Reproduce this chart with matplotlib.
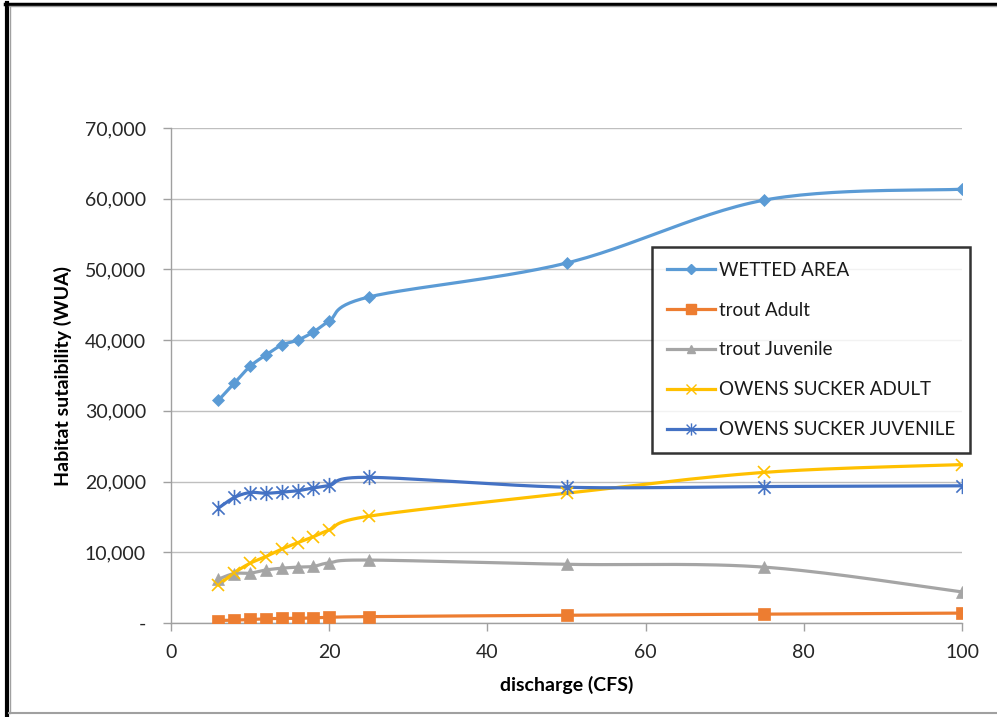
import numpy as np
import matplotlib

matplotlib.use("Agg")
import matplotlib.pyplot as plt
from matplotlib.lines import Line2D
from matplotlib.path import Path
from matplotlib.ticker import FuncFormatter

plt.rcParams["font.family"] = ["Lato", "DejaVu Sans"]

discharge = [6, 8, 10, 12, 14, 16, 18, 20, 25, 50, 75, 100]
wetted_area = [31500, 33900, 36300, 37900, 39300, 40000, 41150, 42700, 46100, 50900, 59800, 61350]
trout_adult = [350, 400, 500, 600, 650, 650, 750, 800, 900, 1100, 1250, 1400]
trout_juvenile = [6200, 7000, 7050, 7500, 7750, 7900, 8000, 8500, 8900, 8300, 7900, 4400]
owens_adult = [5350, 7100, 8450, 9400, 10450, 11350, 12200, 13150, 15100, 18350, 21300, 22400]
owens_juvenile = [16250, 17750, 18450, 18350, 18500, 18700, 19100, 19450, 20600, 19200, 19300, 19400]

series_names = ["WETTED AREA", "trout Adult", "trout Juvenile",
                "OWENS SUCKER ADULT", "OWENS SUCKER JUVENILE"]
colors = ["#5B9BD5", "#ED7D31", "#A5A5A5", "#FFC000", "#4472C4"]

# asterisk marker: vertical bar plus two diagonals
STAR = Path([(0, -1), (0, 1), (-0.8, -0.8), (0.8, 0.8), (-0.8, 0.8), (0.8, -0.8)],
            [Path.MOVETO, Path.LINETO, Path.MOVETO, Path.LINETO, Path.MOVETO, Path.LINETO])
markers = ["D", "s", "^", "x", STAR]
msizes = [6, 9, 8, 9, 11]


def smooth(x, y, n=30):
    """Bezier smoothing with Catmull-Rom control points."""
    p = np.column_stack([x, y]).astype(float)
    pts = [p[0]]
    t = np.linspace(0, 1, n)[1:, None]
    for i in range(len(p) - 1):
        p0 = p[i - 1] if i > 0 else p[i]
        p3 = p[i + 2] if i + 2 < len(p) else p[i + 1]
        b0, b3 = p[i], p[i + 1]
        b1 = b0 + (b3 - p0) / 6
        b2 = b3 - (p3 - b0) / 6
        seg = ((1 - t) ** 3) * b0 + 3 * ((1 - t) ** 2) * t * b1 + 3 * (1 - t) * t ** 2 * b2 + t ** 3 * b3
        pts.extend(seg)
    pts = np.array(pts)
    return pts[:, 0], pts[:, 1]


fig = plt.figure(figsize=(9.97, 7.17), dpi=100)
W, H = 997, 717
ax = fig.add_axes([171 / W, 1 - 623 / H, (962 - 171) / W, (623 - 128) / H])

all_series = [wetted_area, trout_adult, trout_juvenile, owens_adult, owens_juvenile]
handles = []
for name, vals, c, m, ms in zip(series_names, all_series, colors, markers, msizes):
    sx, sy = smooth(discharge, vals)
    ax.plot(sx, sy, color=c, lw=2.3, zorder=3, solid_capstyle="round")
    thin = m == "x" or m is STAR
    ax.plot(discharge, vals, ls="none", marker=m, ms=ms, color=c, mfc=c,
            mew=1.2 if thin else 0.5, zorder=4)
    handles.append(Line2D([], [], color=c, lw=2.3, marker=m, ms=ms * 0.8, mew=1.0))

ax.set_xlim(0, 100)
ax.set_ylim(0, 70000)
ax.set_xticks(np.arange(0, 101, 20))
ax.set_yticks(np.arange(0, 70001, 10000))
ax.yaxis.set_major_formatter(FuncFormatter(lambda v, _: "-" if v == 0 else f"{int(v):,}"))
ax.grid(axis="y", color="#BFBFBF", lw=1.0, zorder=0)
ax.set_axisbelow(True)
for s in ("top", "right"):
    ax.spines[s].set_visible(False)
for s in ("left", "bottom"):
    ax.spines[s].set_color("#A0A0A0")
    ax.spines[s].set_linewidth(1.0)
ax.tick_params(axis="both", colors="#A0A0A0", length=6, width=1.0, labelcolor="#262626",
               labelsize=14)
ax.tick_params(axis="x", pad=9)
ax.tick_params(axis="y", pad=12)

ax.set_xlabel("discharge (CFS)", fontsize=14, fontweight="bold", labelpad=11)
ax.set_ylabel("Habitat sutaibility (WUA)", fontsize=14, fontweight="bold", labelpad=9)

leg = ax.legend(handles, series_names, loc="upper left",
                bbox_to_anchor=((652 - 171) / (962 - 171), 1 - (247 - 128) / (623 - 128)),
                fontsize=13.5, frameon=True, fancybox=False, handlelength=2.6,
                handletextpad=0.2, labelspacing=1.22, borderpad=0.78, borderaxespad=0)
leg.get_frame().set_edgecolor("black")
leg.get_frame().set_linewidth(1.8)
for t in leg.get_texts():
    t.set_color("#1a1a1a")

# outer frame: heavy left and top edges, light bottom edge
fig.add_artist(Line2D([7 / W, 7 / W], [0.5 / H, 1 - 3 / H], color="black", lw=3.0,
                      transform=fig.transFigure))
fig.add_artist(Line2D([9.5 / W, 9.5 / W], [4 / H, 1 - 6 / H], color="#A0A0A0", lw=1.0,
                      transform=fig.transFigure))
fig.add_artist(Line2D([5 / W, 1], [1 - 3.5 / H, 1 - 3.5 / H], color="black", lw=2.5,
                      transform=fig.transFigure))
fig.add_artist(Line2D([9 / W, 1], [1 - 6 / H, 1 - 6 / H], color="#A0A0A0", lw=1.0,
                      transform=fig.transFigure))
fig.add_artist(Line2D([9 / W, 1], [4 / H, 4 / H], color="#A0A0A0", lw=1.5,
                      transform=fig.transFigure))

fig.savefig("out.png", dpi=100)
